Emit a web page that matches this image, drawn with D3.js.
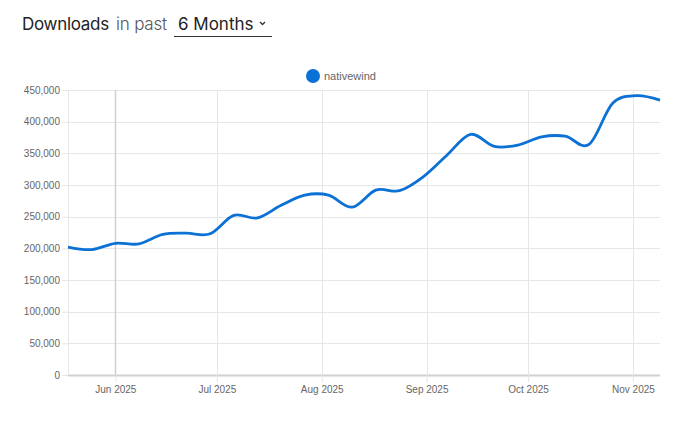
<!DOCTYPE html>
<html>
<head>
<meta charset="utf-8">
<script src="https://cdn.jsdelivr.net/npm/d3@7"></script>
<style>
  body { margin: 0; background: #fff; }
  svg text { font-family: "Liberation Sans", Arial, sans-serif; }
</style>
</head>
<body>
<div id="chart"></div>
<script>
// weekly downloads (weeks starting 2025-05-18)
var weekStarts = ["2025-05-18", "2025-05-25", "2025-06-01", "2025-06-08", "2025-06-15", "2025-06-22",
                  "2025-06-29", "2025-07-06", "2025-07-13", "2025-07-20", "2025-07-27", "2025-08-03",
                  "2025-08-10", "2025-08-17", "2025-08-24", "2025-08-31", "2025-09-07", "2025-09-14",
                  "2025-09-21", "2025-09-28", "2025-10-05", "2025-10-12", "2025-10-19", "2025-10-26",
                  "2025-11-02", "2025-11-09"];
var downloads = [202000, 198000, 208000, 207000, 222000, 224000,
                 223000, 252000, 248000, 268000, 284000, 284000,
                 265000, 292000, 291000, 313000, 347000, 380000,
                 361000, 363000, 376000, 377000, 364000, 429000,
                 441000, 434000];
var yTicks = [0, 50000, 100000, 150000, 200000, 250000, 300000, 350000, 400000, 450000];
var xTicks = ["2025-06-01", "2025-07-01", "2025-08-01", "2025-09-01", "2025-10-01", "2025-11-01"];
var seriesName = "nativewind";

var W = 680, H = 430;
var plotLeft = 68, plotRight = 660, plotTop = 90, plotBottom = 375;
var lineColor = "#0b71d4";
var headFont = "Inter, 'Noto Sans', sans-serif";

var parse = d3.timeParse("%Y-%m-%d");
var data = weekStarts.map(function(d, i) { return { date: parse(d), value: downloads[i] }; });

var svg = d3.select("#chart").append("svg").attr("width", W).attr("height", H);

// header
svg.append("text").attr("x", 22).attr("y", 30).text("Downloads")
    .style("font-family", headFont).style("font-size", "17px").style("letter-spacing", "-0.3px")
    .attr("fill", "#222").attr("font-weight", 400);
svg.append("text").attr("x", 116).attr("y", 30).text("in past")
    .style("font-family", headFont).style("font-size", "17px").style("letter-spacing", "-0.2px")
    .attr("fill", "#555").attr("font-weight", 300);
svg.append("text").attr("x", 178).attr("y", 30).text("6 Months")
    .style("font-family", headFont).style("font-size", "17px")
    .attr("fill", "#222");
svg.append("path").attr("d", "M260,22 l2.5,2.5 l2.5,-2.5").attr("fill", "none")
    .attr("stroke", "#333").attr("stroke-width", 1.3);
svg.append("line").attr("x1", 174).attr("x2", 272).attr("y1", 36.5).attr("y2", 36.5)
    .attr("stroke", "#333").attr("stroke-width", 1);

// scales
var x = d3.scaleTime().domain(d3.extent(data, function(d) { return d.date; })).range([plotLeft, plotRight]);
var y = d3.scaleLinear().domain([0, 450000]).range([plotBottom, plotTop]);

// y grid + labels
var yAxis = svg.append("g").attr("transform", "translate(" + plotLeft + ",0)")
    .call(d3.axisLeft(y).tickValues(yTicks).tickFormat(d3.format(",")).tickSize(6).tickPadding(2));
yAxis.select(".domain").remove();
yAxis.selectAll(".tick line").attr("stroke", "#e6e6e6");
yAxis.selectAll(".tick text").attr("fill", "#666").style("font-size", "10px");
svg.append("g").selectAll("line").data(yTicks).join("line")
    .attr("x1", plotLeft).attr("x2", plotRight)
    .attr("y1", function(d) { return Math.round(y(d)) + 0.5; })
    .attr("y2", function(d) { return Math.round(y(d)) + 0.5; })
    .attr("stroke", function(d) { return d === 0 ? "#d0d0d0" : "#e6e6e6"; })
    .attr("stroke-width", function(d) { return d === 0 ? 2 : 1; });

// x grid + labels
var xAxis = svg.append("g").attr("transform", "translate(0," + plotBottom + ")")
    .call(d3.axisBottom(x).tickValues(xTicks.map(parse)).tickFormat(d3.timeFormat("%b %Y"))
          .tickSize(7).tickPadding(4));
xAxis.select(".domain").remove();
xAxis.selectAll(".tick line").attr("stroke", "#e6e6e6");
xAxis.selectAll(".tick text").attr("fill", "#666").style("font-size", "10px");
svg.append("g").selectAll("line").data(xTicks.map(parse)).join("line")
    .attr("x1", function(d) { return Math.round(x(d)) + 0.5; })
    .attr("x2", function(d) { return Math.round(x(d)) + 0.5; })
    .attr("y1", plotTop).attr("y2", plotBottom)
    .attr("stroke", function(d, i) { return i === 0 ? "#cfcfcf" : "#e6e6e6"; })
    .attr("stroke-width", function(d, i) { return i === 0 ? 1.5 : 1; });
svg.append("line").attr("x1", plotLeft + 0.5).attr("x2", plotLeft + 0.5).attr("y1", plotTop).attr("y2", plotBottom)
    .attr("stroke", "#e6e6e6");

// legend
svg.append("circle").attr("cx", 313).attr("cy", 76).attr("r", 7).attr("fill", lineColor);
svg.append("text").attr("x", 324).attr("y", 80).text(seriesName)
    .attr("fill", "#666").style("font-size", "11px");

// line
var line = d3.line()
    .x(function(d) { return x(d.date); })
    .y(function(d) { return y(d.value); })
    .curve(d3.curveCardinal.tension(0));
svg.append("path").datum(data).attr("d", line)
    .attr("fill", "none").attr("stroke", lineColor).attr("stroke-width", 2.8)
    .attr("stroke-linejoin", "round");
</script>
</body>
</html>
